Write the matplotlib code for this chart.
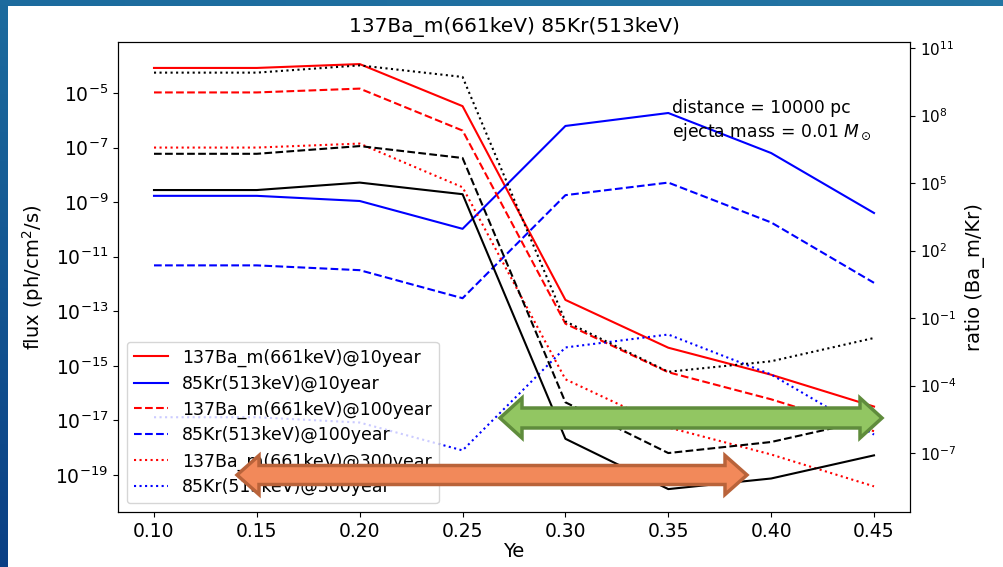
import numpy as np
import matplotlib
matplotlib.use("Agg")
import matplotlib.pyplot as plt
from matplotlib.patches import Polygon, Rectangle

# Ye grid
ye = [0.10, 0.15, 0.20, 0.25, 0.30, 0.35, 0.40, 0.45]

# gamma-ray flux (ph/cm^2/s)
ba_10 = [8.3e-5, 8.3e-5, 1.15e-4, 3.3e-6, 2.6e-13, 4.6e-15, 4.7e-16, 3.2e-17]
kr_10 = [1.7e-9, 1.7e-9, 1.1e-9, 1.05e-10, 6.2e-7, 1.85e-6, 6.3e-8, 4.0e-10]
ba_100 = [1.05e-5, 1.05e-5, 1.45e-5, 4.2e-7, 3.5e-14, 5.8e-16, 5.9e-17, 4.0e-18]
kr_100 = [4.8e-12, 4.8e-12, 3.2e-12, 3.0e-13, 1.8e-9, 5.2e-9, 1.8e-10, 1.1e-12]
ba_300 = [1.0e-7, 1.0e-7, 1.4e-7, 3.5e-9, 3.2e-16, 5.5e-18, 5.6e-19, 3.8e-20]
kr_300 = [1.3e-17, 1.3e-17, 8.3e-18, 7.9e-19, 4.7e-15, 1.4e-14, 4.8e-16, 3.0e-18]

# Ba_m / Kr ratio
ratio_10 = [4.9e4, 4.9e4, 1.05e5, 3.2e4, 4.3e-7, 2.5e-9, 7.4e-9, 7.9e-8]
ratio_100 = [2.0e6, 2.0e6, 4.4e6, 1.3e6, 1.8e-5, 1.0e-7, 3.1e-7, 3.3e-6]
ratio_300 = [8.1e9, 8.1e9, 1.7e10, 5.2e9, 7.1e-2, 4.1e-4, 1.2e-3, 1.3e-2]

W, H = 1004, 567
fig = plt.figure(figsize=(W / 100, H / 100), dpi=100)

# slide background: blue gradient with white panel
bg = fig.add_axes([0, 0, 1, 1], zorder=-10)
gx = np.linspace(0, 1, 200)[None, :]
gy = np.linspace(0, 1, 120)[:, None]
top = np.array([0.11, 0.42, 0.62])
right = np.array([0.17, 0.50, 0.66])
bottom = np.array([0.04, 0.25, 0.52])
img = (top[None, None, :] * (1 - gy[..., None]) + bottom[None, None, :] * gy[..., None])
img = img * (1 - 0.5 * gx[..., None]) + right[None, None, :] * 0.5 * gx[..., None]
bg.imshow(np.clip(img, 0, 1), extent=[0, 1, 0, 1], aspect="auto", origin="upper")
bg.add_patch(Rectangle((8 / W, 0), 1, 1 - 6 / H, transform=bg.transAxes,
                       facecolor="white", edgecolor="none"))
bg.set_xlim(0, 1)
bg.set_ylim(0, 1)
bg.axis("off")

ax = fig.add_axes([118 / W, 1 - 512 / H, (910 - 118) / W, (512 - 42) / H])
ax2 = ax.twinx()

ax.plot(ye, ba_10, "r-", lw=1.5, label="137Ba_m(661keV)@10year")
ax.plot(ye, kr_10, "b-", lw=1.5, label="85Kr(513keV)@10year")
ax.plot(ye, ba_100, "r--", lw=1.5, label="137Ba_m(661keV)@100year")
ax.plot(ye, kr_100, "b--", lw=1.5, label="85Kr(513keV)@100year")
ax.plot(ye, ba_300, "r:", lw=1.5, label="137Ba_m(661keV)@300year")
ax.plot(ye, kr_300, "b:", lw=1.5, label="85Kr(513keV)@300year")

ax2.plot(ye, ratio_10, "k-", lw=1.5)
ax2.plot(ye, ratio_100, "k--", lw=1.5)
ax2.plot(ye, ratio_300, "k:", lw=1.5)

ax.set_yscale("log")
ax2.set_yscale("log")
ax.set_ylim(10 ** -20.36, 10 ** -3.13)
ax2.set_ylim(10 ** -9.62, 10 ** 11.27)
ax.set_yticks([10.0 ** e for e in range(-19, -4, 2)])
ax2.set_yticks([10.0 ** e for e in range(-7, 12, 3)])
ax.yaxis.set_minor_locator(matplotlib.ticker.NullLocator())
ax2.yaxis.set_minor_locator(matplotlib.ticker.NullLocator())
ax.set_xticks(ye)
ax.set_xticklabels([f"{v:.2f}" for v in ye])

ax.tick_params(labelsize=13.5)
ax2.tick_params(labelsize=11)
ax.set_xlabel("Ye", fontsize=14, labelpad=1)
ax.set_ylabel("flux (ph/cm$^2$/s)", fontsize=14, labelpad=7)
ax2.set_ylabel("ratio (Ba_m/Kr)", fontsize=14, labelpad=6)
ax.set_title("137Ba_m(661keV) 85Kr(513keV)", fontsize=14.5, pad=7)

ax.text(0.70, 0.878, "distance = 10000 pc\nejecta mass = 0.01 $M_\\odot$",
        transform=ax.transAxes, fontsize=12.3, va="top", linespacing=1.25)

ax.legend(loc="lower left", fontsize=12.5, handlelength=2.0, borderpad=0.4,
          labelspacing=0.45)


def block_arrow(x0, x1, yc, shaft, head, hlen, face, edge):
    pts = [(x0, yc), (x0 + hlen, yc - head / 2), (x0 + hlen, yc - shaft / 2),
           (x1 - hlen, yc - shaft / 2), (x1 - hlen, yc - head / 2), (x1, yc),
           (x1 - hlen, yc + head / 2), (x1 - hlen, yc + shaft / 2),
           (x0 + hlen, yc + shaft / 2), (x0 + hlen, yc + head / 2)]
    pts = [(x / W, 1 - y / H) for x, y in pts]
    fig.patches.append(Polygon(pts, closed=True, transform=fig.transFigure,
                               facecolor=face, edgecolor=edge, lw=2.5,
                               joinstyle="miter", zorder=20, figure=fig))


block_arrow(500, 882, 418, 20, 40, 22, "#92c662", "#5f8c3c")
block_arrow(237, 747, 475, 19, 39, 22, "#f2895a", "#b9633a")

fig.savefig("out.png", dpi=100)
